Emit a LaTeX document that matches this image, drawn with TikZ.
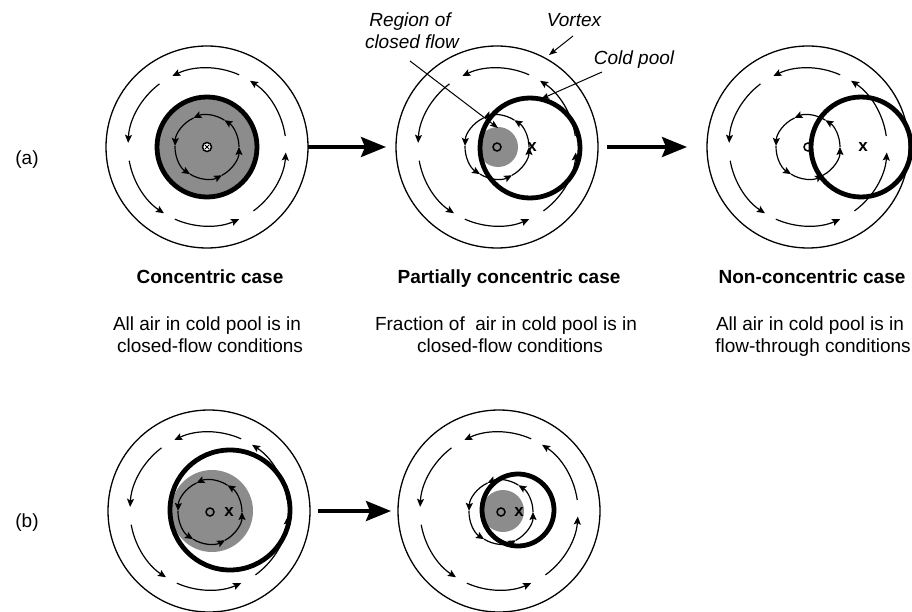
\documentclass[tikz,border=0pt]{standalone}
\usepackage{fontspec}
\setmainfont{Liberation Sans}
\usetikzlibrary{arrows.meta}
\definecolor{poolgray}{RGB}{140,140,140}
\newcommand{\outerflow}[1]{%
  \foreach \a/\b in {66/116,127/177,190/237,246/294,306/356,368/417}
    \draw[flowarc] ([shift={(-\a:79)}]#1) arc[start angle=-\a, end angle=-\b, radius=79];}
\newcommand{\innerflow}[1]{%
  \foreach \a/\b in {-62/0,0/57,57/115,115/178,178/238,238/298}
    \draw[flowarc] ([shift={(-\a:32)}]#1) arc[start angle=-\a, end angle=-\b, radius=32];}
\begin{document}
\begin{tikzpicture}[x=1pt,y=-1pt,
  vortex/.style={line width=1.3pt},
  flowarc/.style={line width=1.2pt,-{Stealth[length=8pt,width=7pt,inset=1.5pt]}},
  pool/.style={line width=4.8pt},
  graydisk/.style={fill=poolgray},
  omark/.style={line width=1.5pt},
  xmark/.style={font=\bfseries\fontsize{17}{17}\selectfont,inner sep=0pt},
  bigarrow/.style={line width=3.5pt,-{Stealth[length=25pt,width=20pt,inset=4pt]}},
  pointer/.style={line width=1pt,-{Stealth[length=8pt,width=6pt,inset=1.5pt]}},
  lbl/.style={font=\fontsize{19}{22}\selectfont,anchor=base,inner sep=0pt},
  ttl/.style={font=\bfseries\fontsize{19}{22}\selectfont,anchor=base,inner sep=0pt},
  itl/.style={font=\itshape\fontsize{19}{22}\selectfont,anchor=base,inner sep=0pt}]
\useasboundingbox (0,0) rectangle (912,612);

% ---------- panel a1: concentric ----------
\coordinate (c1) at (207,147);
\draw[vortex] (c1) circle[radius=101];
\outerflow{c1}
\fill[graydisk] (c1) circle[radius=50];
\draw[pool] (c1) circle[radius=50];
\innerflow{c1}
\draw[omark,fill=white] (c1) circle[radius=4.5];
\draw[line width=1pt] ([shift={(-2,-2)}]c1) -- ([shift={(2,2)}]c1);
\draw[line width=1pt] ([shift={(-2,2)}]c1) -- ([shift={(2,-2)}]c1);

% ---------- panel a2: partially concentric ----------
\coordinate (c2) at (497,147);
\coordinate (p2) at (530,148);
\draw[vortex] (c2) circle[radius=101];
\outerflow{c2}
\fill[graydisk] (498,147) circle[radius=20];
\innerflow{c2}
\draw[pool] (p2) circle[radius=50];
\draw[omark] (c2) circle[radius=4];
\node[xmark] (x2) at (532,147) {x};

% ---------- panel a3: non-concentric ----------
\coordinate (c3) at (808,147);
\coordinate (p3) at (861,147);
\draw[vortex] (c3) circle[radius=101];
\outerflow{c3}
\innerflow{c3}
\draw[pool] (p3) circle[radius=50];
\draw[omark] (c3) circle[radius=4];
\node[xmark] (x3) at (863,147) {x};

% ---------- panel b1 ----------
\coordinate (c4) at (209,511);
\coordinate (i4) at (210,512);
\coordinate (p4) at (230,510);
\draw[vortex] (c4) circle[radius=101];
\outerflow{c4}
\fill[graydisk] (212,511) circle[radius=41];
\draw[pool] (p4) circle[radius=60];
\innerflow{i4}
\draw[omark] (i4) circle[radius=4];
\node[xmark] (x4) at (229,512) {x};

% ---------- panel b2 ----------
\coordinate (c5) at (499,511);
\coordinate (i5) at (501,512);
\coordinate (p5) at (518,510);
\draw[vortex] (c5) circle[radius=101];
\outerflow{c5}
\fill[graydisk] (503,511) circle[radius=21];
\innerflow{i5}
\draw[pool] (p5) circle[radius=36];
\draw[omark] (i5) circle[radius=4];
\node[xmark] (x5) at (519,512) {x};

% ---------- big arrows ----------
\coordinate (a1s) at (308,147); \coordinate (a1e) at (386,147);
\coordinate (a2s) at (607,147); \coordinate (a2e) at (687,147);
\coordinate (b1s) at (318,511); \coordinate (b1e) at (391,511);
\draw[bigarrow] (a1s) -- (a1e);
\draw[bigarrow] (a2s) -- (a2e);
\draw[bigarrow] (b1s) -- (b1e);

% ---------- top labels and pointers ----------
\node[itl] (reg1) at (410,27) {Region of};
\node[itl] (reg2) at (412,49) {closed flow};
\node[itl] (vor) at (574,27) {Vortex};
\node[itl] (cold) at (634,65) {Cold pool};
\coordinate (regS) at (410,61); \coordinate (regE) at (498,128);
\coordinate (vorS) at (573,36); \coordinate (vorE) at (549,55);
\coordinate (colS) at (602,72); \coordinate (colE) at (541,99);
\draw[pointer] (regS) -- (regE);
\draw[pointer] (vorS) -- (vorE);
\draw[pointer] (colS) -- (colE);

% ---------- panel letters ----------
\node[lbl] (la) at (27,165) {(a)};
\node[lbl] (lb) at (27,527) {(b)};

% ---------- captions ----------
\node[ttl] (t1) at (210,283) {Concentric case};
\node[ttl] (t2) at (509,283) {Partially concentric case};
\node[ttl] (t3) at (812,283) {Non-concentric case};
\node[lbl] (d11) at (207,330) {All air in cold pool is in};
\node[lbl] (d12) at (210,352) {closed-flow conditions};
\node[lbl] (d21) at (506,330) {Fraction of~ air in cold pool is in};
\node[lbl] (d22) at (510,352) {closed-flow conditions};
\node[lbl] (d31) at (810,330) {All air in cold pool is in};
\node[lbl] (d32) at (813,352) {flow-through conditions};
\end{tikzpicture}
\end{document}
